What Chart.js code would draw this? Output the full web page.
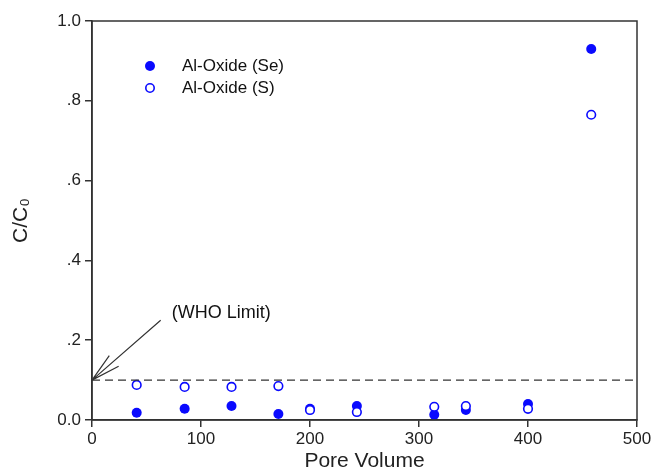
<!DOCTYPE html>
<html>
<head>
<meta charset="utf-8">
<script src="https://cdn.jsdelivr.net/npm/chart.js@4"></script>
<style>
  html, body { margin: 0; padding: 0; background: #fff; }
  #wrap { width: 656px; height: 472px; }
</style>
</head>
<body>
<div id="wrap"><canvas id="chart" width="656" height="472"></canvas></div>
<script>
// pore volume vs C/C0 for the Al-oxide column
const poreVolume = [41, 85, 128, 171, 200, 243, 314, 343, 400, 458];
const seValues = [0.018, 0.028, 0.035, 0.015, 0.028, 0.035, 0.013, 0.025, 0.04, 0.93];
const sValues = [0.088, 0.083, 0.083, 0.085, 0.025, 0.02, 0.033, 0.035, 0.028, 0.765];
const whoLimit = 0.1;
const xTicks = [0, 100, 200, 300, 400, 500];
const yTickLabels = ['0.0', '.2', '.4', '.6', '.8', '1.0'];
const seriesNames = ['Al-Oxide (Se)', 'Al-Oxide (S)'];

const BLUE = '#0a0aff';
const AXIS = '#333';
const FONT = 'Liberation Sans, Arial, sans-serif';

const toPoints = (xs, ys) => xs.map((x, i) => ({ x: x, y: ys[i] }));

// box frame, legend and the WHO arrow label
const decorations = {
  id: 'decorations',
  afterDraw(chart) {
    const { ctx, chartArea: a, scales: { x, y } } = chart;
    ctx.save();
    ctx.strokeStyle = AXIS;
    ctx.lineWidth = 1.5;
    ctx.strokeRect(a.left, a.top, a.right - a.left, a.bottom - a.top);

    // arrow pointing at the limit line
    const tipX = x.getPixelForValue(0), tipY = y.getPixelForValue(whoLimit);
    const tailX = x.getPixelForValue(63), tailY = y.getPixelForValue(0.25);
    ctx.lineWidth = 1.2;
    ctx.beginPath();
    ctx.moveTo(tailX, tailY);
    ctx.lineTo(tipX, tipY);
    const ang = Math.atan2(tailY - tipY, tailX - tipX);
    [-0.24, 0.24].forEach(d => {
      ctx.moveTo(tipX, tipY);
      ctx.lineTo(tipX + 30 * Math.cos(ang + d), tipY + 30 * Math.sin(ang + d));
    });
    ctx.stroke();

    ctx.fillStyle = '#111';
    ctx.font = '18px ' + FONT;
    ctx.textBaseline = 'middle';
    ctx.fillText('(WHO Limit)', tailX + 11, tailY - 7);

    // legend
    const lx = a.left + 58, ly = a.top + 45;
    ctx.beginPath();
    ctx.arc(lx, ly, 5, 0, Math.PI * 2);
    ctx.fillStyle = BLUE;
    ctx.fill();
    ctx.beginPath();
    ctx.arc(lx, ly + 22, 4.2, 0, Math.PI * 2);
    ctx.fillStyle = '#fff';
    ctx.fill();
    ctx.strokeStyle = BLUE;
    ctx.lineWidth = 1.6;
    ctx.stroke();
    ctx.fillStyle = '#111';
    ctx.font = '17px ' + FONT;
    ctx.fillText(seriesNames[0], lx + 32, ly);
    ctx.fillText(seriesNames[1], lx + 32, ly + 22);
    ctx.restore();
  }
};

new Chart(document.getElementById('chart'), {
  type: 'scatter',
  data: {
    datasets: [
      {
        label: 'WHO limit',
        type: 'line',
        data: [{ x: 0, y: whoLimit }, { x: 500, y: whoLimit }],
        borderColor: AXIS,
        borderWidth: 1.3,
        borderDash: [8, 5],
        pointRadius: 0
      },
      {
        label: seriesNames[1],
        data: toPoints(poreVolume, sValues),
        pointRadius: 4.3,
        pointBorderWidth: 1.6,
        pointBackgroundColor: '#fff',
        pointBorderColor: BLUE
      },
      {
        label: seriesNames[0],
        data: toPoints(poreVolume, seValues),
        pointRadius: 5,
        pointBorderWidth: 0,
        pointBackgroundColor: BLUE,
        pointBorderColor: BLUE
      }
    ]
  },
  options: {
    responsive: false,
    animation: false,
    layout: { padding: { top: 21, right: 19, left: 0, bottom: 0 } },
    plugins: { legend: { display: false }, tooltip: { enabled: false } },
    scales: {
      x: {
        type: 'linear',
        min: 0,
        max: 500,
        afterFit: s => { s.height = 52; },
        afterBuildTicks: s => { s.ticks = xTicks.map(v => ({ value: v })); },
        border: { color: AXIS, width: 1.5 },
        grid: { drawOnChartArea: false, drawTicks: true, tickLength: 7, color: AXIS, lineWidth: 1.5 },
        ticks: { color: '#222', font: { family: FONT, size: 17 }, padding: 2, maxRotation: 0 },
        title: { display: true, text: 'Pore Volume', color: '#222', font: { family: FONT, size: 21, lineHeight: 1.0 }, padding: { top: 0, bottom: 0 } }
      },
      y: {
        type: 'linear',
        min: 0,
        max: 1,
        afterFit: s => { s.width = 92; },
        afterBuildTicks: s => { s.ticks = yTickLabels.map((t, i) => ({ value: i * 0.2 })); },
        border: { color: AXIS, width: 1.5 },
        grid: { drawOnChartArea: false, drawTicks: true, tickLength: 7, color: AXIS, lineWidth: 1.5 },
        ticks: {
          color: '#222',
          font: { family: FONT, size: 17 },
          padding: 4,
          callback: (v, i) => yTickLabels[i]
        },
        title: { display: true, text: 'C/C₀', color: '#222', font: { family: FONT, size: 21 }, padding: { top: 9, bottom: 0 } }
      }
    }
  },
  plugins: [decorations]
});
</script>
</body>
</html>
